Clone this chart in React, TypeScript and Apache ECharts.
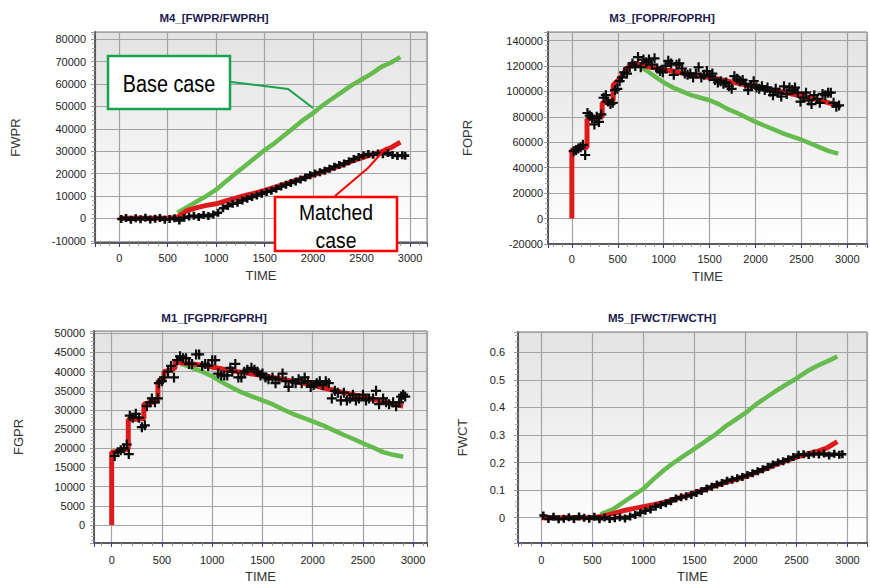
import React, { useEffect, useRef } from 'react';
import * as echarts from 'echarts';

const FONT = '"Liberation Sans", Arial, Helvetica, sans-serif';
const GREEN = '#66bb4e';
const RED = '#de1b1b';
const BLACK = '#0a0a0a';
// Plus-shaped markers for observed history: a bold one for the dense panels, a finer one for the sparse ones
const PLUS_BOLD = 'path://M3.4,0h3.2v3.4h3.4v3.2h-3.4v3.4h-3.2v-3.4h-3.4v-3.2h3.4z';
const PLUS_FINE = 'path://M3.9,0h2.2v3.9h3.9v2.2h-3.9v3.9h-2.2v-3.9h-3.9v-2.2h3.9z';

// Dense observation times shared by the water-rate and water-cut panels
const denseTime = [20, 70, 120, 170, 220, 270, 320, 370, 420, 470, 520, 570, 620, 670, 720, 770, 820, 870, 920, 970,
  1020, 1070, 1120, 1170, 1220, 1270, 1320, 1370, 1420, 1470, 1520, 1570, 1620, 1670, 1720, 1770, 1820, 1870, 1920, 1970,
  2020, 2070, 2120, 2170, 2220, 2270, 2320, 2370, 2420, 2470, 2520, 2570, 2620, 2670, 2720, 2770, 2820, 2870, 2920, 2950];
// Simulation report times
const simTime = [0, 100, 200, 300, 400, 500, 600, 700, 800, 900, 1000, 1100, 1200, 1300, 1400, 1500, 1600, 1700, 1800,
  1900, 2000, 2100, 2200, 2300, 2400, 2500, 2600, 2700, 2800, 2900];

// M4 — FWPR
const fwprHist = [-300, 200, -600, 100, -400, 300, -500, -200, 200, -600, -300, 100, -900, 300, 800, 1200, 600, 1500, 1000, 1700,
  2500, 4500, 5500, 6500, 7000, 8000, 8800, 9500, 10200, 11000, 11800, 12300, 13200, 14200, 15000, 15800, 16500, 17300, 18200, 19300,
  20000, 20600, 21300, 22200, 23000, 23800, 24500, 25500, 26500, 27400, 28200, 28700, 28400, 29000, 28600, 29200, 28300, 27800, 28200, 28000];
const fwprMatched = [0, 0, 0, 0, 0, 0, 500, 3500, 4800, 5800, 6500, 7800, 9000, 10200, 11300, 12500, 13800, 15200, 16600,
  18000, 19400, 20800, 22300, 23900, 25500, 27000, 28300, 29600, 31500, 34000];
const fwprBaseTime = [600, 700, 800, 900, 1000, 1100, 1200, 1300, 1400, 1500, 1600, 1700, 1800, 1900, 2000, 2100, 2200,
  2300, 2400, 2500, 2600, 2700, 2800, 2900];
const fwprBase = [2500, 5000, 7500, 10000, 12800, 16500, 20000, 23500, 27000, 30500, 33500, 37000, 40500, 44000, 47000,
  50500, 53500, 56500, 59500, 62000, 64500, 67500, 69500, 72000];

// M3 — FOPR
const foprHistTime = [20, 45, 70, 95, 120, 145, 170, 195, 220, 245, 270, 295, 320, 345, 370, 395, 420, 445, 470, 495, 520, 545,
  570, 600, 630, 660, 690, 720, 750, 780, 810, 840, 870, 900, 930, 960, 990, 1020, 1050, 1080, 1110, 1140, 1170, 1200, 1230,
  1260, 1290, 1320, 1350, 1380, 1410, 1440, 1470, 1500, 1530, 1560, 1590, 1620, 1650, 1680, 1710, 1740, 1770, 1800, 1830,
  1860, 1890, 1920, 1950, 1980, 2010, 2040, 2070, 2100, 2130, 2160, 2190, 2220, 2250, 2280, 2310, 2340, 2370, 2400, 2430,
  2460, 2490, 2520, 2550, 2580, 2610, 2640, 2670, 2700, 2730, 2760, 2790, 2820, 2850, 2880, 2910];
const foprHist = [53000, 54000, 55000, 56000, 58000, 50000, 83000, 81000, 79000, 74000, 80000, 76000, 82000, 95000, 97000,
  92000, 90000, 91000, 101000, 102000, 108000, 111000, 115000, 114000, 119000, 122000, 120000, 127000, 119000, 125000,
  123000, 125000, 121000, 126000, 118000, 116000, 115000, 120000, 124000, 122000, 113000, 121000, 122000, 118000, 114000,
  113000, 114000, 111000, 114000, 119000, 111000, 113000, 116000, 112000, 114000, 109000, 107000, 108000, 106000, 107000,
  104000, 102000, 112000, 110000, 108000, 109000, 106000, 101000, 105000, 108000, 103000, 102000, 104000, 101000, 103000,
  100000, 97000, 102000, 99000, 96000, 104000, 98000, 103000, 101000, 103000, 99000, 92000, 95000, 99000, 93000, 90000,
  97000, 94000, 91000, 98000, 97000, 99000, 99000, 91000, 88000, 89000];
const foprMatchedTime = [0, 0, 60, 165, 165, 240, 330, 330, 400, 450, 450, 520, 590, 650, 700, 800, 900, 1000, 1100, 1200,
  1300, 1400, 1500, 1600, 1700, 1800, 1900, 2000, 2100, 2200, 2300, 2400, 2500, 2600, 2700, 2800, 2900];
const foprMatched = [0, 54000, 55000, 56000, 78000, 79000, 80000, 91000, 92000, 93000, 105000, 110000, 117000, 122000,
  121500, 120000, 118500, 117000, 116000, 114500, 113000, 112000, 111000, 109500, 108000, 106500, 105000, 104000, 102500,
  101000, 99500, 98000, 96500, 95000, 93000, 91000, 89000];
const foprBaseTime = [750, 800, 900, 1000, 1100, 1200, 1300, 1400, 1500, 1600, 1700, 1800, 1900, 2000, 2100, 2200, 2300,
  2400, 2500, 2600, 2700, 2800, 2900];
const foprBase = [119000, 117000, 112000, 107000, 103000, 100000, 97000, 95000, 93000, 90000, 86000, 83000, 79500, 76000,
  73000, 70000, 67000, 64500, 62000, 59000, 56000, 53000, 51000];

// M1 — FGPR
const fgprHistTime = [30, 60, 90, 120, 150, 170, 180, 210, 240, 270, 300, 330, 350, 380, 400, 430, 460, 470, 500, 520, 560,
  590, 620, 650, 680, 710, 740, 770, 800, 840, 870, 900, 930, 960, 1000, 1030, 1060, 1090, 1120, 1150, 1180, 1200, 1230,
  1260, 1290, 1320, 1350, 1390, 1420, 1450, 1480, 1500, 1530, 1560, 1600, 1630, 1660, 1700, 1730, 1760, 1800, 1830, 1860,
  1890, 1920, 1950, 1980, 2010, 2040, 2070, 2100, 2130, 2160, 2190, 2220, 2250, 2280, 2310, 2340, 2370, 2400, 2430, 2460,
  2500, 2530, 2560, 2600, 2630, 2660, 2700, 2730, 2760, 2800, 2830, 2860, 2880, 2900, 2920];
const fgprHist = [18000, 19000, 19500, 20000, 21000, 18500, 28500, 28000, 29000, 28000, 25500, 26000, 31000, 32000, 33000,
  32000, 33000, 37000, 37500, 38500, 40000, 41500, 38500, 43000, 44000, 43500, 43500, 42000, 42000, 44500, 44500, 41500,
  42000, 41500, 43000, 43000, 39500, 39000, 39000, 39000, 41000, 40000, 42000, 38500, 38500, 40000, 40500, 41000, 40500,
  40000, 39000, 39500, 38500, 38000, 38500, 37000, 38000, 39500, 37500, 36000, 37500, 37000, 38000, 37000, 38500, 37500,
  36000, 36500, 37000, 37500, 36500, 37500, 37000, 33000, 35000, 34500, 32500, 34500, 32500, 33000, 34000, 32500, 33000,
  34000, 32500, 33000, 33000, 35000, 31500, 33000, 32000, 31500, 32000, 31000, 32000, 33500, 34000, 33500];
const fgprMatchedTime = [0, 0, 80, 165, 165, 250, 320, 320, 400, 460, 460, 520, 520, 600, 630, 630, 700, 800, 900, 1000,
  1100, 1200, 1300, 1400, 1500, 1600, 1700, 1800, 1900, 2000, 2100, 2200, 2300, 2400, 2500, 2600, 2700, 2800, 2900];
const fgprMatched = [0, 19000, 19300, 19800, 27500, 27600, 27800, 31500, 32000, 32500, 37500, 38000, 40000, 40500, 41000,
  42500, 42300, 42000, 41700, 41200, 40700, 40200, 39800, 39400, 39000, 38500, 38000, 37500, 37000, 36500, 35800, 35200,
  34600, 34000, 33400, 32800, 32200, 31500, 31000];
const fgprBaseTime = [680, 700, 800, 900, 1000, 1100, 1200, 1300, 1400, 1500, 1600, 1700, 1800, 1900, 2000, 2100, 2200,
  2300, 2400, 2500, 2600, 2700, 2800, 2900];
const fgprBase = [42000, 42000, 41000, 40000, 38800, 37200, 35800, 34500, 33500, 32500, 31500, 30200, 29000, 28000, 27000,
  26000, 24800, 23600, 22500, 21300, 20200, 19000, 18300, 17800];

// M5 — FWCT
const fwctHist = [0.008, -0.005, 0.003, -0.006, -0.004, 0.002, -0.005, 0.004, 0.0, -0.004, 0.003, -0.006, 0.001, -0.005,
  -0.002, 0.002, -0.003, 0.004, 0.01, 0.018, 0.025, 0.03, 0.04, 0.046, 0.052, 0.06, 0.07, 0.074, 0.078, 0.082, 0.09, 0.097,
  0.106, 0.112, 0.12, 0.126, 0.134, 0.138, 0.143, 0.148, 0.155, 0.161, 0.168, 0.176, 0.184, 0.193, 0.2, 0.205, 0.212, 0.22,
  0.228, 0.23, 0.227, 0.232, 0.229, 0.233, 0.226, 0.232, 0.228, 0.23];
const fwctMatched = [0, 0, 0, 0, 0, 0, 0.005, 0.015, 0.025, 0.033, 0.04, 0.047, 0.055, 0.066, 0.077, 0.09, 0.102, 0.115,
  0.127, 0.138, 0.15, 0.163, 0.178, 0.193, 0.207, 0.22, 0.23, 0.24, 0.253, 0.276];
const fwctBaseTime = [580, 700, 800, 900, 1000, 1100, 1200, 1300, 1400, 1500, 1600, 1700, 1800, 1900, 2000, 2100, 2200,
  2300, 2400, 2500, 2600, 2700, 2800, 2900];
const fwctBase = [0.012, 0.03, 0.055, 0.08, 0.105, 0.14, 0.172, 0.2, 0.225, 0.25, 0.275, 0.3, 0.33, 0.355, 0.38, 0.41,
  0.435, 0.46, 0.483, 0.505, 0.53, 0.55, 0.567, 0.585];

const pairs = (t: number[], v: number[]) => t.map((x, i) => [x, v[i]]);

type Panel = {
  title: string; titleAt: [number, number]; yName: string;
  grid: { left: number; top: number; width: number; height: number };
  x: [number, number]; y: [number, number]; ySplit: number; yStep: number; yDigits: number;
  yLabelMargin: number; xLabelMargin: number; yNameGap: number; xNameGap: number;
  crossSymbol: string; crossSize: number; redWidth: number;
  hist: number[][]; matched: number[][]; base: number[][];
};

const panels: Panel[] = [
  {
    title: 'M4_[FWPR/FWPRH]', titleAt: [214, 18], yName: 'FWPR',
    grid: { left: 95, top: 32, width: 332, height: 211 },
    x: [-250, 3175], y: [-11000, 83200], ySplit: 9, yStep: 10000, yDigits: 0,
    yLabelMargin: 9, xLabelMargin: 9, yNameGap: 73, xNameGap: 26, crossSymbol: PLUS_BOLD, crossSize: 8, redWidth: 5,
    hist: pairs(denseTime, fwprHist), matched: pairs(simTime, fwprMatched), base: pairs(fwprBaseTime, fwprBase),
  },
  {
    title: 'M3_[FOPR/FOPRH]', titleAt: [662, 18], yName: 'FOPR',
    grid: { left: 548, top: 32, width: 330, height: 212 },
    x: [-260, 3214], y: [-20000, 146700], ySplit: 8, yStep: 20000, yDigits: 0,
    yLabelMargin: 5, xLabelMargin: 9, yNameGap: 74, xNameGap: 26, crossSymbol: PLUS_FINE, crossSize: 10, redWidth: 5,
    hist: pairs(foprHistTime, foprHist), matched: pairs(foprMatchedTime, foprMatched), base: pairs(foprBaseTime, foprBase),
  },
  {
    title: 'M1_[FGPR/FGPRH]', titleAt: [214, 318], yName: 'FGPR',
    grid: { left: 94, top: 331, width: 333, height: 212 },
    x: [-176, 3137], y: [-4700, 50600], ySplit: 11, yStep: 5000, yDigits: 0,
    yLabelMargin: 9, xLabelMargin: 11, yNameGap: 69, xNameGap: 27, crossSymbol: PLUS_FINE, crossSize: 10, redWidth: 5,
    hist: pairs(fgprHistTime, fgprHist), matched: pairs(fgprMatchedTime, fgprMatched), base: pairs(fgprBaseTime, fgprBase),
  },
  {
    title: 'M5_[FWCT/FWCTH]', titleAt: [662, 318], yName: 'FWCT',
    grid: { left: 518, top: 332, width: 360, height: 211 },
    x: [-228, 3191], y: [-0.0918, 0.6735], ySplit: 8, yStep: 0.1, yDigits: 1,
    yLabelMargin: 13, xLabelMargin: 11, yNameGap: 49, xNameGap: 27, crossSymbol: PLUS_BOLD, crossSize: 8, redWidth: 5,
    hist: pairs(denseTime, fwctHist), matched: pairs(simTime, fwctMatched), base: pairs(fwctBaseTime, fwctBase),
  },
];

const onStep = (v: number, step: number) => Math.abs(v / step - Math.round(v / step)) < 1e-6;

function buildOption() {
  const grids: any[] = [];
  const xAxes: any[] = [];
  const yAxes: any[] = [];
  const series: any[] = [];
  const graphic: any[] = [];

  panels.forEach((p, i) => {
    grids.push({
      ...p.grid,
      show: true,
      borderColor: '#7a7a7a',
      borderWidth: 1,
      backgroundColor: {
        type: 'linear', x: 0, y: 0, x2: 0, y2: 1,
        colorStops: [{ offset: 0, color: '#e3e3e3' }, { offset: 1, color: '#ffffff' }],
      },
    });
    xAxes.push({
      type: 'value', gridIndex: i, min: p.x[0], max: p.x[1], splitNumber: 7,
      name: 'TIME', nameLocation: 'middle', nameGap: p.xNameGap,
      nameTextStyle: { fontFamily: FONT, fontSize: 13, color: '#333' },
      axisLine: { show: true, onZero: false, lineStyle: { color: '#5a5a5a', width: 2 } },
      axisTick: { show: true, length: 4, lineStyle: { color: '#3333cc', width: 1 } },
      minorTick: { show: true, splitNumber: 5, length: 3, lineStyle: { color: '#999', width: 1 } },
      splitLine: { show: true, lineStyle: { color: '#a3a3a3', width: 1.2 } },
      axisLabel: {
        margin: p.xLabelMargin, fontFamily: FONT, fontSize: 11, color: '#222',
        formatter: (v: number) => (onStep(v, 500) ? String(Math.round(v)) : ''),
      },
    });
    yAxes.push({
      type: 'value', gridIndex: i, min: p.y[0], max: p.y[1], splitNumber: p.ySplit,
      name: p.yName, nameLocation: 'middle', nameGap: p.yNameGap,
      nameTextStyle: { fontFamily: FONT, fontSize: 13, color: '#333' },
      axisLine: { show: true, onZero: false, lineStyle: { color: '#5a5a5a', width: 2 } },
      axisTick: { show: true, length: 4, lineStyle: { color: '#999', width: 1 } },
      minorTick: { show: true, splitNumber: 5, length: 3, lineStyle: { color: '#aaa', width: 1 } },
      splitLine: { show: true, lineStyle: { color: '#a3a3a3', width: 1.2 } },
      axisLabel: {
        margin: p.yLabelMargin, fontFamily: FONT, fontSize: 11, color: '#222',
        formatter: (v: number) => (onStep(v, p.yStep) ? (p.yDigits ? (Math.round(v * 10) / 10).toString() : String(Math.round(v))) : ''),
      },
    });
    series.push({
      type: 'line', xAxisIndex: i, yAxisIndex: i, data: p.base, showSymbol: false, silent: true,
      lineStyle: { color: GREEN, width: 4.5 }, itemStyle: { color: GREEN }, z: 2,
    });
    series.push({
      type: 'line', xAxisIndex: i, yAxisIndex: i, data: p.matched, showSymbol: false, silent: true,
      lineStyle: { color: RED, width: p.redWidth }, itemStyle: { color: RED }, z: 3,
    });
    series.push({
      type: 'scatter', xAxisIndex: i, yAxisIndex: i, data: p.hist, symbol: p.crossSymbol, symbolSize: p.crossSize, silent: true,
      itemStyle: { color: BLACK, opacity: 1 }, z: 4,
    });
    graphic.push({
      type: 'text', x: p.titleAt[0], y: p.titleAt[1], z: 50,
      style: { text: p.title, font: `bold 11.5px ${FONT}`, fill: '#1b1b4e', align: 'center', verticalAlign: 'middle' },
    });
  });

  // Callouts on the water-rate panel
  graphic.push(
    { type: 'polyline', z: 100, shape: { points: [[231, 82], [288, 89], [313, 108]] }, style: { stroke: '#17a24e', lineWidth: 2, fill: 'none' } },
    { type: 'rect', z: 101, shape: { x: 108, y: 56, width: 122, height: 53 }, style: { fill: '#ffffff', stroke: '#17a24e', lineWidth: 2.5 } },
    { type: 'text', z: 102, x: 169, y: 84, scaleX: 0.86, style: { text: 'Base case', font: `23px ${FONT}`, fill: '#000', align: 'center', verticalAlign: 'middle' } },
    { type: 'polyline', z: 100, shape: { points: [[335, 196], [368, 168], [387, 147]] }, style: { stroke: '#ff0000', lineWidth: 2, fill: 'none' } },
    { type: 'rect', z: 101, shape: { x: 275, y: 197, width: 122, height: 54 }, style: { fill: '#ffffff', stroke: '#ff0000', lineWidth: 2.5 } },
    { type: 'text', z: 102, x: 336, y: 212, scaleX: 0.88, style: { text: 'Matched', font: `22px ${FONT}`, fill: '#000', align: 'center', verticalAlign: 'middle' } },
    { type: 'text', z: 102, x: 336, y: 240, scaleX: 0.88, style: { text: 'case', font: `22px ${FONT}`, fill: '#000', align: 'center', verticalAlign: 'middle' } },
  );

  return {
    animation: false,
    backgroundColor: '#ffffff',
    textStyle: { fontFamily: FONT },
    grid: grids,
    xAxis: xAxes,
    yAxis: yAxes,
    series,
    graphic,
  };
}

export default function App() {
  const ref = useRef<HTMLDivElement>(null);
  useEffect(() => {
    if (!ref.current) return;
    const chart = echarts.init(ref.current, null, { renderer: 'svg' });
    chart.setOption(buildOption());
    return () => chart.dispose();
  }, []);
  return (
    <div
      ref={ref}
      style={{ position: 'absolute', left: 0, top: 0, width: 870, height: 584, background: '#fff' }}
    />
  );
}
